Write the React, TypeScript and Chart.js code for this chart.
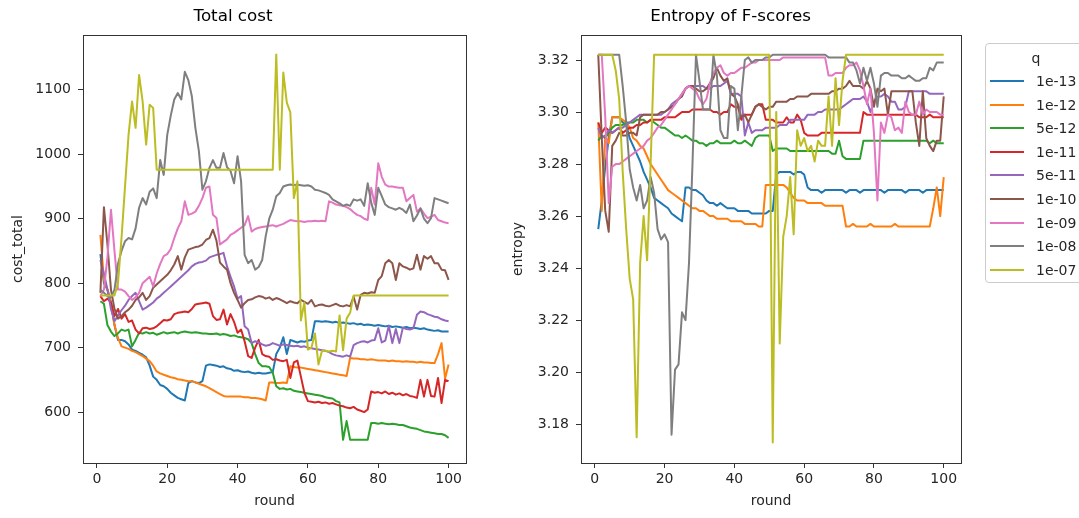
import React, { useEffect, useRef } from "react";
import { Chart, registerables } from "chart.js";

Chart.register(...registerables);

// ---------------- data ----------------
const rounds = [
  1, 2, 3, 4, 5, 6, 7, 8, 9, 10, 11, 12, 13, 14, 15, 16, 17, 18, 19, 20,
  21, 22, 23, 24, 25, 26, 27, 28, 29, 30, 31, 32, 33, 34, 35, 36, 37, 38, 39, 40,
  41, 42, 43, 44, 45, 46, 47, 48, 49, 50, 51, 52, 53, 54, 55, 56, 57, 58, 59, 60,
  61, 62, 63, 64, 65, 66, 67, 68, 69, 70, 71, 72, 73, 74, 75, 76, 77, 78, 79, 80,
  81, 82, 83, 84, 85, 86, 87, 88, 89, 90, 91, 92, 93, 94, 95, 96, 97, 98, 99, 100,
];

const qLabels = ["1e-13", "1e-12", "5e-12", "1e-11", "5e-11", "1e-10", "1e-09", "1e-08", "1e-07"];
const lineColors = ["#1f77b4", "#ff7f0e", "#2ca02c", "#d62728", "#9467bd", "#8c564b", "#e377c2", "#7f7f7f", "#bcbd22"];

const roundTicks = [0, 20, 40, 60, 80, 100];
const costTicks = [600, 700, 800, 900, 1000, 1100];
const entropyTicks = [3.18, 3.2, 3.22, 3.24, 3.26, 3.28, 3.3, 3.32];

// cost_total per q
const cost_1e13 = [
  845, 800, 790, 770, 735, 712, 712, 710, 705, 697,
  695, 692, 689, 685, 672, 655, 650, 642, 640, 636,
  630, 626, 622, 620, 618, 645, 648, 646, 645, 648,
  672, 674, 673, 672, 670, 671, 668, 667, 664, 665,
  663, 662, 663, 661, 660, 661, 660, 660, 661, 662,
  690, 700, 716, 690, 712, 710, 708, 710, 709, 711,
  712, 741, 741, 740, 741, 740, 739, 740, 738, 739,
  738, 737, 738, 736, 737, 735, 736, 735, 734, 735,
  734, 733, 734, 732, 733, 732, 731, 732, 730, 731,
  730, 729, 730, 728, 727, 726, 727, 725, 725, 725,
];
const cost_1e12 = [
  875, 805, 790, 770, 735, 715, 702, 700, 698, 695,
  693, 690, 687, 683, 679, 672, 663, 660, 658, 656,
  654, 653, 651, 650, 649, 648, 648, 646, 644, 642,
  640, 637, 634, 631, 628, 625, 624, 624, 624, 624,
  624, 623, 623, 622, 622, 621, 620, 618, 646, 646,
  645, 645, 646, 645, 671, 670, 669, 669, 668, 667,
  666, 665, 664, 663, 662, 661, 660, 659, 658, 657,
  656, 684, 683, 683, 682, 682, 681, 682, 681, 680,
  680, 680, 679, 680, 679, 679, 678, 679, 678, 678,
  677, 678, 677, 677, 676, 676, 690, 707, 652, 674,
];
const cost_5e12 = [
  772, 768, 735, 725, 718, 722, 728, 726, 728, 702,
  712, 723, 722, 724, 722, 723, 720, 722, 724, 722,
  723, 724, 722, 724, 725, 724, 723, 724, 723, 722,
  722, 721, 721, 722, 720, 721, 720, 718, 719, 717,
  716, 715, 713, 707, 690, 676, 671, 671, 670, 661,
  640, 636, 637, 635, 636, 633, 632, 631, 630, 629,
  628, 627, 626, 625, 623, 622, 621, 617, 615, 557,
  586, 557, 557, 557, 557, 557, 557, 583, 583, 582,
  583, 582, 581, 582, 581, 580, 580, 578, 576, 575,
  574, 572, 570, 569, 568, 567, 566, 566, 564, 560,
];
const cost_1e11 = [
  780, 772, 776, 770, 749, 760, 745, 752, 740, 742,
  728, 722, 730, 731, 729, 730, 733, 738, 743, 742,
  744, 752, 754, 755, 756, 755, 760, 767, 768, 769,
  770, 768, 749, 743, 744, 759, 736, 752, 740, 723,
  728, 710, 687, 684, 700, 712, 690, 687, 686, 681,
  682, 680, 679, 681, 653, 677, 680, 655, 630, 617,
  616, 615, 616, 614, 615, 613, 614, 612, 610, 609,
  607, 606, 608, 604, 602, 600, 604, 632, 630, 631,
  629, 632, 628, 630, 627, 629, 626, 628, 625, 624,
  622, 650, 624, 650, 625, 624, 653, 614, 650, 648,
];
const cost_5e11 = [
  836, 815, 790, 760, 741, 750, 758, 765, 774, 780,
  785, 772, 759, 762, 766, 770, 776, 780, 785, 790,
  795, 800, 805, 810, 815, 820, 826, 830, 832, 833,
  835, 840, 842, 844, 845, 847, 826, 810, 795, 776,
  780, 733, 728, 707, 710, 708, 705, 703, 704, 707,
  705, 703, 705, 704, 703, 702, 703, 701, 702, 700,
  699, 698, 697, 696, 695, 693, 690, 688, 687, 686,
  688, 686, 704, 707, 709, 710, 708, 711, 712, 730,
  708, 711, 734, 707, 729, 707, 731, 729, 728, 730,
  751, 756, 755, 752, 750, 748, 747, 744, 742, 741,
];
const cost_1e10 = [
  785, 918, 860, 790, 760, 745, 749, 755, 759, 765,
  774, 778, 785, 774, 780, 793, 798, 803, 808, 813,
  820, 829, 842, 821, 840, 852, 854, 856, 857, 860,
  867, 870, 883, 866, 832, 826, 821, 800, 785, 774,
  762, 769, 774, 775, 778, 780, 779, 776, 778, 774,
  777, 775, 772, 769, 772, 770, 769, 774, 771, 768,
  774, 764, 766, 767, 765, 764, 766, 768, 765, 764,
  766, 764, 779, 759, 782, 785, 784, 786, 785, 805,
  811, 831, 836, 831, 805, 831, 826, 824, 821, 823,
  844, 821, 842, 838, 842, 831, 831, 821, 820, 805,
];
const cost_1e09 = [
  780, 790, 840, 914, 850, 790, 790, 787, 780, 774,
  778, 785, 800, 805, 810, 795, 815, 830, 842, 845,
  853, 870, 885, 896, 927, 906, 908, 911, 920, 932,
  948, 950, 906, 901, 860, 864, 868, 875, 878, 882,
  886, 890, 904, 880, 884, 886, 887, 888, 889, 890,
  888, 890, 892, 895, 898, 897, 896, 896, 895, 896,
  896, 897, 896, 897, 896, 927, 925, 922, 921, 920,
  918, 915, 910, 906, 904, 900, 898, 948, 922, 986,
  965, 953, 950, 950, 949, 948, 948, 927, 932, 937,
  911, 916, 908, 901, 903, 906, 898, 896, 894, 893,
];
const cost_1e08 = [
  790, 785, 780, 778, 790, 830, 850, 865, 870, 868,
  885, 917, 932, 922, 942, 947, 932, 991, 968, 1030,
  1060, 1085, 1095, 1085, 1128, 1115, 1090, 1041, 1005, 945,
  958, 979, 991, 979, 979, 1002, 980, 974, 955, 997,
  958, 844, 831, 836, 821, 825, 836, 873, 900, 914,
  935, 940, 950, 952, 953, 952, 953, 952, 951, 952,
  950, 945, 944, 942, 940, 937, 930, 927, 924, 920,
  922, 920, 930, 928, 930, 920, 955, 925, 906, 948,
  935, 922, 918, 916, 914, 917, 914, 909, 922, 896,
  905, 916, 900, 893, 901, 932, 930, 928, 926, 924,
];
const cost_1e07 = [
  781, 781, 781, 781, 781, 800, 870, 950, 1030, 1082,
  1041, 1123, 1082, 1015, 1077, 1072, 976, 976, 976, 976,
  976, 976, 976, 976, 976, 976, 976, 976, 976, 976,
  976, 976, 976, 976, 976, 976, 976, 976, 976, 976,
  976, 976, 976, 976, 976, 976, 976, 976, 976, 976,
  1155, 976, 1127, 1080, 1065, 932, 958, 742, 770, 697,
  700, 722, 674, 695, 695, 694, 695, 694, 750, 696,
  745, 754, 781, 781, 781, 781, 781, 781, 781, 781,
  781, 781, 781, 781, 781, 781, 781, 781, 781, 781,
  781, 781, 781, 781, 781, 781, 781, 781, 781, 781,
];

// entropy per q
const ent_1e13 = [
  3.255, 3.266, 3.279, 3.290, 3.298, 3.298, 3.298, 3.296, 3.295, 3.290,
  3.287, 3.284, 3.281, 3.277, 3.274, 3.271, 3.267, 3.266, 3.265, 3.264,
  3.263, 3.261, 3.260, 3.259, 3.258, 3.271, 3.271, 3.270, 3.270, 3.269,
  3.268, 3.266, 3.265, 3.265, 3.264, 3.265, 3.264, 3.263, 3.263, 3.263,
  3.262, 3.262, 3.262, 3.262, 3.261, 3.261, 3.261, 3.261, 3.261, 3.262,
  3.262, 3.276, 3.277, 3.277, 3.277, 3.277, 3.276, 3.277, 3.277, 3.276,
  3.271, 3.270, 3.270, 3.270, 3.269, 3.270, 3.270, 3.270, 3.270, 3.270,
  3.270, 3.269, 3.270, 3.270, 3.270, 3.269, 3.270, 3.270, 3.270, 3.270,
  3.270, 3.270, 3.269, 3.270, 3.270, 3.270, 3.270, 3.270, 3.269, 3.270,
  3.270, 3.270, 3.270, 3.269, 3.270, 3.270, 3.270, 3.270, 3.270, 3.270,
];
const ent_1e12 = [
  3.296, 3.262, 3.291, 3.288, 3.298, 3.298, 3.298, 3.297, 3.296, 3.294,
  3.290, 3.289, 3.287, 3.286, 3.283, 3.280, 3.278, 3.276, 3.274, 3.272,
  3.270, 3.269, 3.268, 3.267, 3.266, 3.265, 3.264, 3.263, 3.263, 3.262,
  3.262, 3.261, 3.260, 3.260, 3.259, 3.259, 3.259, 3.259, 3.258, 3.258,
  3.258, 3.258, 3.257, 3.257, 3.257, 3.257, 3.256, 3.256, 3.272, 3.272,
  3.272, 3.272, 3.272, 3.272, 3.271, 3.269, 3.267, 3.266, 3.266, 3.266,
  3.265, 3.265, 3.265, 3.265, 3.265, 3.264, 3.264, 3.264, 3.264, 3.264,
  3.264, 3.256, 3.256, 3.257, 3.256, 3.256, 3.256, 3.256, 3.257, 3.256,
  3.256, 3.256, 3.256, 3.256, 3.256, 3.257, 3.256, 3.256, 3.256, 3.256,
  3.256, 3.256, 3.256, 3.256, 3.256, 3.256, 3.263, 3.271, 3.260, 3.275,
];
const ent_5e12 = [
  3.289, 3.291, 3.290, 3.292, 3.294, 3.295, 3.295, 3.295, 3.296, 3.296,
  3.296, 3.297, 3.297, 3.297, 3.296, 3.297, 3.296, 3.295, 3.294, 3.294,
  3.293, 3.292, 3.291, 3.291, 3.290, 3.291, 3.290, 3.289, 3.289, 3.288,
  3.288, 3.287, 3.288, 3.288, 3.289, 3.288, 3.288, 3.288, 3.288, 3.289,
  3.288, 3.288, 3.289, 3.288, 3.287, 3.290, 3.291, 3.291, 3.291, 3.291,
  3.285, 3.286, 3.286, 3.286, 3.286, 3.285, 3.285, 3.285, 3.285, 3.285,
  3.285, 3.285, 3.285, 3.285, 3.285, 3.285, 3.285, 3.284, 3.284, 3.289,
  3.283, 3.282, 3.282, 3.282, 3.282, 3.282, 3.289, 3.289, 3.289, 3.289,
  3.289, 3.289, 3.289, 3.289, 3.289, 3.289, 3.289, 3.289, 3.289, 3.289,
  3.289, 3.289, 3.289, 3.289, 3.289, 3.288, 3.289, 3.288, 3.288, 3.288,
];
const ent_1e11 = [
  3.296, 3.292, 3.294, 3.293, 3.292, 3.293, 3.294, 3.292, 3.293, 3.294,
  3.294, 3.295, 3.295, 3.296, 3.296, 3.297, 3.297, 3.297, 3.297, 3.298,
  3.298, 3.298, 3.298, 3.299, 3.300, 3.300, 3.300, 3.301, 3.301, 3.301,
  3.301, 3.301, 3.301, 3.300, 3.300, 3.299, 3.300, 3.300, 3.303, 3.302,
  3.302, 3.297, 3.299, 3.299, 3.299, 3.302, 3.303, 3.303, 3.297, 3.297,
  3.297, 3.296, 3.296, 3.296, 3.298, 3.296, 3.296, 3.299, 3.297, 3.292,
  3.291, 3.291, 3.291, 3.291, 3.292, 3.292, 3.292, 3.292, 3.292, 3.292,
  3.292, 3.292, 3.292, 3.292, 3.292, 3.292, 3.300, 3.299, 3.299, 3.299,
  3.299, 3.299, 3.299, 3.299, 3.299, 3.299, 3.299, 3.299, 3.299, 3.299,
  3.299, 3.299, 3.298, 3.298, 3.298, 3.299, 3.298, 3.298, 3.298, 3.298,
];
const ent_5e11 = [
  3.294, 3.290, 3.291, 3.293, 3.292, 3.293, 3.294, 3.294, 3.295, 3.296,
  3.297, 3.298, 3.299, 3.299, 3.299, 3.299, 3.299, 3.299, 3.299, 3.300,
  3.301, 3.303, 3.304, 3.305, 3.307, 3.309, 3.310, 3.310, 3.310, 3.310,
  3.310, 3.309, 3.309, 3.310, 3.310, 3.310, 3.311, 3.312, 3.307, 3.307,
  3.307, 3.306, 3.291, 3.296, 3.292, 3.293, 3.293, 3.293, 3.294, 3.294,
  3.294, 3.294, 3.295, 3.295, 3.295, 3.297, 3.297, 3.297, 3.297, 3.297,
  3.299, 3.299, 3.299, 3.300, 3.300, 3.301, 3.301, 3.301, 3.301, 3.301,
  3.302, 3.303, 3.304, 3.305, 3.305, 3.305, 3.306, 3.304, 3.300, 3.304,
  3.306, 3.306, 3.307, 3.306, 3.304, 3.304, 3.301, 3.301, 3.302, 3.308,
  3.308, 3.308, 3.308, 3.308, 3.308, 3.307, 3.307, 3.307, 3.307, 3.307,
];
const ent_1e10 = [
  3.322, 3.290, 3.262, 3.254, 3.287, 3.289, 3.292, 3.291, 3.291, 3.292,
  3.292, 3.291, 3.298, 3.299, 3.299, 3.299, 3.299, 3.299, 3.300, 3.300,
  3.301, 3.302, 3.303, 3.305, 3.306, 3.309, 3.310, 3.310, 3.309, 3.308,
  3.308, 3.309, 3.311, 3.313, 3.317, 3.314, 3.312, 3.313, 3.307, 3.306,
  3.303, 3.298, 3.299, 3.296, 3.299, 3.302, 3.303, 3.302, 3.301, 3.302,
  3.302, 3.304, 3.304, 3.304, 3.304, 3.305, 3.305, 3.306, 3.306, 3.306,
  3.306, 3.307, 3.307, 3.307, 3.307, 3.307, 3.307, 3.308, 3.308, 3.309,
  3.309, 3.310, 3.312, 3.310, 3.310, 3.310, 3.309, 3.312, 3.309, 3.302,
  3.309, 3.308, 3.309, 3.299, 3.308, 3.308, 3.308, 3.308, 3.308, 3.308,
  3.308, 3.296, 3.287, 3.308, 3.290, 3.287, 3.285, 3.289, 3.289, 3.306,
];
const ent_1e09 = [
  3.322, 3.322, 3.298, 3.265, 3.279, 3.280, 3.280, 3.281, 3.282, 3.283,
  3.284, 3.285, 3.286, 3.287, 3.289, 3.290, 3.292, 3.294, 3.295, 3.297,
  3.299, 3.301, 3.303, 3.305, 3.307, 3.309, 3.310, 3.309, 3.308, 3.305,
  3.303, 3.305, 3.311, 3.315, 3.317, 3.318, 3.315, 3.314, 3.315, 3.315,
  3.316, 3.317, 3.317, 3.318, 3.319, 3.319, 3.320, 3.320, 3.320, 3.320,
  3.320, 3.320, 3.320, 3.321, 3.321, 3.321, 3.321, 3.321, 3.321, 3.321,
  3.321, 3.321, 3.321, 3.321, 3.321, 3.321, 3.314, 3.314, 3.315, 3.315,
  3.315, 3.317, 3.318, 3.318, 3.319, 3.316, 3.310, 3.303, 3.309, 3.292,
  3.266, 3.296, 3.292, 3.299, 3.298, 3.293, 3.294, 3.292, 3.304, 3.300,
  3.299, 3.299, 3.304, 3.299, 3.301, 3.300, 3.300, 3.300, 3.299, 3.299,
];
const ent_1e08 = [
  3.322, 3.322, 3.322, 3.322, 3.322, 3.322, 3.322, 3.310, 3.296, 3.278,
  3.271, 3.266, 3.272, 3.263, 3.266, 3.275, 3.269, 3.255, 3.251, 3.253,
  3.250, 3.176, 3.201, 3.203, 3.223, 3.220, 3.242, 3.280, 3.322, 3.312,
  3.301, 3.301, 3.301, 3.322, 3.314, 3.293, 3.290, 3.290, 3.310, 3.309,
  3.293, 3.306, 3.320, 3.321, 3.319, 3.320, 3.320, 3.320, 3.321, 3.321,
  3.322, 3.322, 3.322, 3.322, 3.322, 3.322, 3.322, 3.322, 3.322, 3.322,
  3.322, 3.322, 3.322, 3.322, 3.322, 3.322, 3.321, 3.321, 3.321, 3.321,
  3.321, 3.321, 3.319, 3.319, 3.316, 3.311, 3.317, 3.312, 3.317, 3.311,
  3.302, 3.314, 3.315, 3.315, 3.314, 3.314, 3.314, 3.313, 3.313, 3.314,
  3.313, 3.312, 3.312, 3.313, 3.313, 3.317, 3.316, 3.319, 3.319, 3.319,
];
const ent_1e07 = [
  3.322, 3.322, 3.322, 3.322, 3.322, 3.316, 3.305, 3.277, 3.255, 3.236,
  3.228, 3.175, 3.242, 3.260, 3.243, 3.280, 3.322, 3.322, 3.322, 3.322,
  3.322, 3.322, 3.322, 3.322, 3.322, 3.322, 3.322, 3.322, 3.322, 3.322,
  3.322, 3.322, 3.322, 3.322, 3.322, 3.322, 3.322, 3.322, 3.322, 3.322,
  3.322, 3.322, 3.322, 3.322, 3.322, 3.322, 3.322, 3.322, 3.322, 3.322,
  3.173, 3.300, 3.211, 3.252, 3.260, 3.275, 3.253, 3.293, 3.287, 3.290,
  3.285, 3.287, 3.281, 3.289, 3.287, 3.287, 3.306, 3.287, 3.313, 3.295,
  3.312, 3.322, 3.322, 3.322, 3.322, 3.322, 3.322, 3.322, 3.322, 3.322,
  3.322, 3.322, 3.322, 3.322, 3.322, 3.322, 3.322, 3.322, 3.322, 3.322,
  3.322, 3.322, 3.322, 3.322, 3.322, 3.322, 3.322, 3.322, 3.322, 3.322,
];

const costSeries = [cost_1e13, cost_1e12, cost_5e12, cost_1e11, cost_5e11, cost_1e10, cost_1e09, cost_1e08, cost_1e07];
const entropySeries = [ent_1e13, ent_1e12, ent_5e12, ent_1e11, ent_5e11, ent_1e10, ent_1e09, ent_1e08, ent_1e07];

// ---------------- styling ----------------
const FONT = "'DejaVu Sans', 'Liberation Sans', sans-serif";
const TEXT = "#262626";
const AXIS = "#333333";

const framePlugin = {
  id: "frame",
  afterDatasetsDraw(chart: any) {
    const { ctx, chartArea: a } = chart;
    ctx.save();
    ctx.strokeStyle = AXIS;
    ctx.lineWidth = 1;
    ctx.strokeRect(Math.round(a.left) + 0.5, Math.round(a.top) + 0.5, Math.round(a.right - a.left), Math.round(a.bottom - a.top));
    ctx.restore();
  },
};

function buildConfig(opts: any) {
  const { title, yLabel, series, yMin, yMax, yTicks, yFormat, axisWidth, padRight } = opts;
  return {
    type: "line",
    data: {
      datasets: series.map((vals: number[], i: number) => ({
        label: qLabels[i],
        data: rounds.map((r, j) => ({ x: r, y: vals[j] })),
        borderColor: lineColors[i],
        backgroundColor: lineColors[i],
        borderWidth: 2,
        pointRadius: 0,
        pointHoverRadius: 0,
        tension: 0,
        fill: false,
        borderJoinStyle: "round",
        order: series.length - i,
      })),
    },
    options: {
      responsive: false,
      animation: false,
      events: [],
      layout: { padding: { left: 0, right: padRight, top: 0, bottom: 0 } },
      plugins: {
        legend: { display: false },
        tooltip: { enabled: false },
        title: {
          display: true,
          text: title,
          color: "#000",
          font: { family: FONT, size: 16.7, weight: "normal", lineHeight: 1.2 },
          padding: { top: 7, bottom: 8 },
        },
      },
      scales: {
        x: {
          type: "linear",
          min: -3.95,
          max: 104.95,
          afterBuildTicks: (s: any) => {
            s.ticks = roundTicks.map((v) => ({ value: v }));
          },
          afterFit: (s: any) => {
            s.height = 55;
          },
          grid: { display: true, drawOnChartArea: false, drawTicks: true, tickLength: 5, color: AXIS },
          border: { display: false },
          ticks: {
            color: TEXT,
            font: { family: FONT, size: 14 },
            padding: 3,
            maxRotation: 0,
            autoSkip: false,
            callback: (v: any) => String(v),
          },
          title: {
            display: true,
            text: "round",
            color: TEXT,
            font: { family: FONT, size: 14, lineHeight: 1.2 },
            padding: { top: 0, bottom: 8 },
          },
        },
        y: {
          type: "linear",
          min: yMin,
          max: yMax,
          afterBuildTicks: (s: any) => {
            s.ticks = yTicks.map((v: number) => ({ value: v }));
          },
          afterFit: (s: any) => {
            s.width = axisWidth;
          },
          grid: { display: true, drawOnChartArea: false, drawTicks: true, tickLength: 5, color: AXIS },
          border: { display: false },
          ticks: {
            color: TEXT,
            font: { family: FONT, size: 14 },
            padding: 7,
            autoSkip: false,
            callback: yFormat,
          },
          title: {
            display: true,
            text: yLabel,
            color: TEXT,
            font: { family: FONT, size: 14, lineHeight: 1.2 },
            padding: { top: 10, bottom: 0 },
          },
        },
      },
    },
    plugins: [framePlugin],
  };
}

function ChartCanvas(props: { config: any; left: number; width: number }) {
  const ref = useRef<HTMLCanvasElement | null>(null);
  useEffect(() => {
    if (!ref.current) return;
    const chart = new Chart(ref.current, props.config);
    return () => chart.destroy();
  }, []);
  return (
    <canvas
      ref={ref}
      width={props.width}
      height={518}
      style={{ position: "absolute", left: props.left, top: 0, width: props.width, height: 518 }}
    />
  );
}

function Legend() {
  const boxLeft = 985;
  const boxTop = 43;
  return (
    <div
      style={{
        position: "absolute",
        left: boxLeft,
        top: boxTop,
        width: 110,
        height: 240,
        border: "1px solid #cccccc",
        borderRadius: 4,
        background: "rgba(255,255,255,0.8)",
        boxSizing: "border-box",
        fontFamily: FONT,
        fontSize: 14,
        color: TEXT,
      }}
    >
      <div style={{ position: "absolute", left: 50, top: 14 - 9, transform: "translateX(-50%)", lineHeight: "18px" }}>q</div>
      {qLabels.map((q, i) => {
        const cy = 37 + i * 23.6;
        return (
          <div key={q}>
            <div
              style={{
                position: "absolute",
                left: 4,
                top: cy - 1,
                width: 34,
                height: 2,
                background: lineColors[i],
              }}
            />
            <div style={{ position: "absolute", left: 50, top: cy - 9, lineHeight: "18px", whiteSpace: "nowrap" }}>{q}</div>
          </div>
        );
      })}
    </div>
  );
}

const costConfig = buildConfig({
  title: "Total cost",
  yLabel: "cost_total",
  series: costSeries,
  yMin: 521,
  yMax: 1185,
  yTicks: costTicks,
  yFormat: (v: any) => String(v),
  axisWidth: 83,
  padRight: 83,
});

const entropyConfig = buildConfig({
  title: "Entropy of F-scores",
  yLabel: "entropy",
  series: entropySeries,
  yMin: 3.1651,
  yMax: 3.3296,
  yTicks: entropyTicks,
  yFormat: (v: any) => Number(v).toFixed(2),
  axisWidth: 81,
  padRight: 81,
});

export default function App() {
  return (
    <div
      style={{
        position: "absolute",
        left: 0,
        top: 0,
        width: 1079,
        height: 518,
        overflow: "hidden",
        background: "#ffffff",
      }}
    >
      <ChartCanvas config={costConfig} left={0} width={549} />
      <ChartCanvas config={entropyConfig} left={500} width={542} />
      <Legend />
    </div>
  );
}
